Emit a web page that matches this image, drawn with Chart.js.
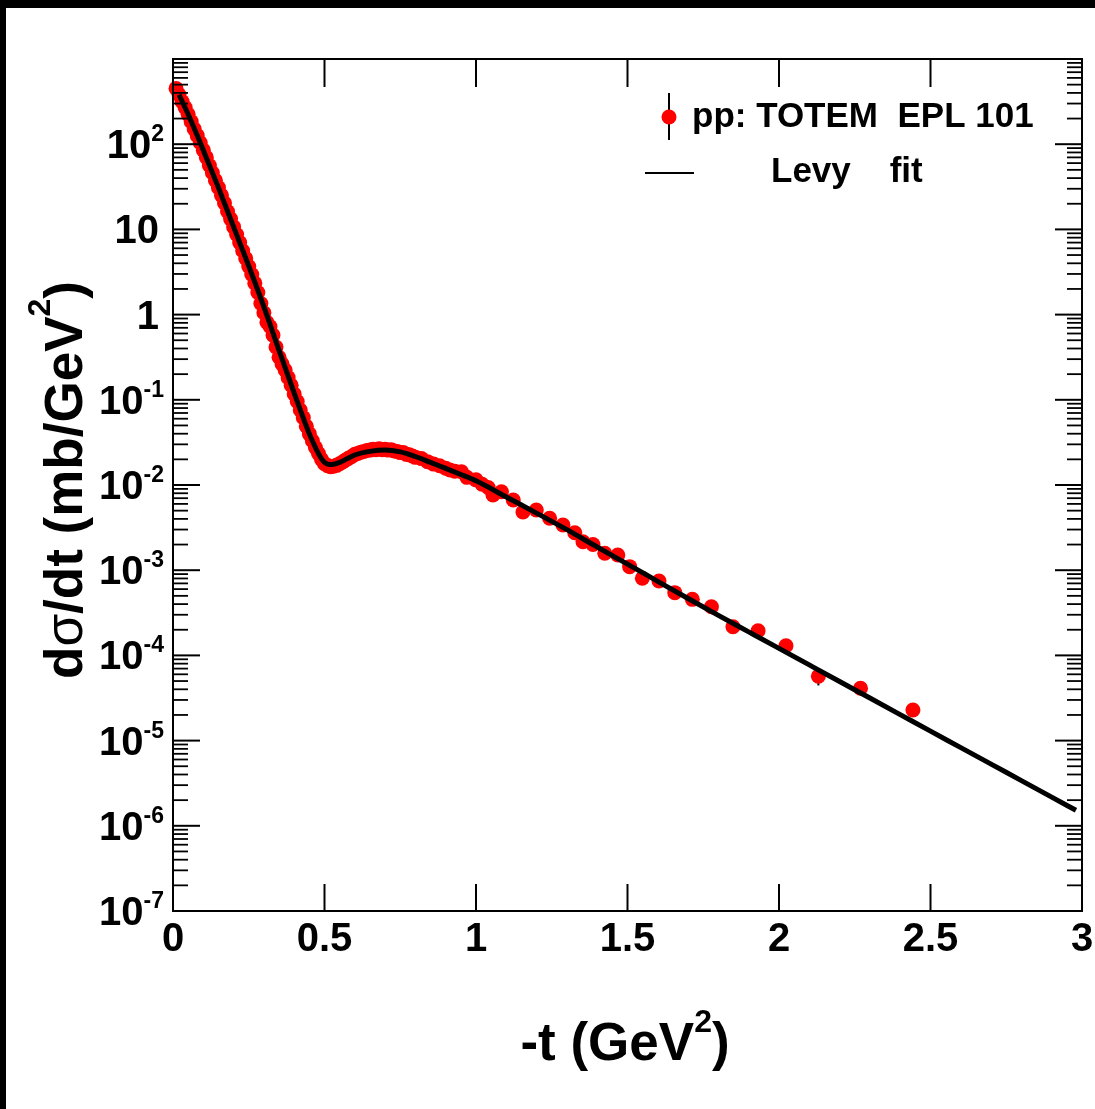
<!DOCTYPE html>
<html>
<head>
<meta charset="utf-8">
<script src="https://cdn.jsdelivr.net/npm/chart.js@4.4.1/dist/chart.umd.min.js"></script>
<style>
html,body{margin:0;padding:0;background:#000;overflow:hidden;}
canvas{display:block;}
</style>
</head>
<body>
<canvas id="c" width="1095" height="1109"></canvas>
<script>
// ---------------- data ----------------
// TOTEM pp elastic dσ/dt at 7 TeV
const dataT = [0.01,0.02,0.03,0.04,0.05,0.06,0.07,0.08,0.09,0.10,
  0.11,0.12,0.13,0.14,0.15,0.16,0.17,0.18,0.19,0.20,
  0.21,0.22,0.23,0.24,0.25,0.26,0.27,0.28,0.29,0.30,
  0.31,0.32,0.33,0.34,0.35,0.36,0.37,0.38,0.39,0.40,
  0.41,0.42,0.43,0.44,0.45,0.46,0.47,0.48,0.49,0.50,
  0.51,0.52,0.53,0.54,0.55,0.56,0.57,0.58,0.59,0.60,
  0.61,0.62,0.63,0.64,0.65,0.66,0.67,0.68,0.69,0.70,
  0.71,0.72,0.73,0.74,0.75,0.76,0.77,0.78,0.79,0.80,
  0.82,0.84,0.86,0.88,0.90,0.914,0.93,0.952,0.97,1.00,
  1.02,1.04,1.056,1.084,1.123,1.155,1.199,1.243,1.287,1.326,
  1.353,1.386,1.425,1.468,1.507,1.549,1.604,1.656,1.714,1.777,
  1.848,1.931,2.023,2.130,2.269,2.442];
const dataY = [452,380,316,269,224,184,151,126,104,85.1,
  70.0,56.2,46.2,37.6,30.9,25.1,20.4,16.2,13.3,10.7,
  8.71,7.00,5.62,4.57,3.67,2.95,2.34,1.82,1.35,1.05,
  0.813,0.724,0.575,0.417,0.316,0.263,0.224,0.182,0.148,0.117,
  0.0955,0.0759,0.0617,0.0490,0.0398,0.0331,0.0275,0.0234,0.0200,0.0178,
  0.0168,0.0164,0.0166,0.0170,0.0178,0.0186,0.0197,0.0207,0.0216,0.0229,
  0.0234,0.0243,0.0248,0.0254,0.0257,0.0263,0.0260,0.0266,0.0260,0.0263,
  0.0257,0.0260,0.0251,0.0248,0.0240,0.0240,0.0229,0.0226,0.0219,0.0211,
  0.0204,0.0188,0.0176,0.0168,0.0157,0.0150,0.0145,0.0143,0.0123,0.0115,
  0.0102,0.00933,0.00764,0.00834,0.00667,0.00482,0.00509,0.00407,0.00339,0.00275,
  0.00216,0.00200,0.00158,0.00151,0.00110,0.000804,0.000746,0.000545,0.000455,0.000373,
  0.000217,0.000195,0.000130,0.0000569,0.0000411,0.0000229];

// error bars of the large-|t| points
const errT  = [1.848, 1.931, 2.023, 2.130, 2.269, 2.442];
const errLo = [1.6e-5, 1.4e-5, 1.0e-5, 1.25e-5, 3.2e-6, 2.0e-6];
const errHi = [1.6e-5, 1.4e-5, 1.0e-5, 0.8e-5, 3.2e-6, 2.0e-6];

// Levy fit curve
const fitT = [0.02,0.05,0.10,0.15,0.20,0.25,0.30,0.35,0.40,0.45,
  0.475,0.49,0.50,0.515,0.53,0.55,0.575,0.60,0.65,0.70,
  0.75,0.80,0.85,0.90,0.95,1.00,1.10,1.20,1.30,1.40,
  1.50,1.60,1.70,1.80,1.90,2.00,2.10,2.20,2.30,2.40,
  2.50,2.60,2.70,2.80,2.90,2.98];
const fitY = [380,224,85.1,30.9,10.7,3.72,1.23,0.380,0.120,0.0398,
  0.0254,0.0204,0.0184,0.0174,0.0175,0.0184,0.0204,0.0225,0.0248,0.0257,
  0.0245,0.0216,0.0184,0.0157,0.0133,0.0112,0.00724,0.00468,0.00299,0.00187,
  0.00118,0.000740,0.000465,0.000295,0.000189,0.000121,0.0000773,0.0000494,0.0000316,0.0000202,
  0.0000129,0.00000828,0.0000053,0.00000339,0.00000217,0.00000152];

// axes
const xTicks = [0, 0.5, 1, 1.5, 2, 2.5, 3];
const xTickLabels = ['0', '0.5', '1', '1.5', '2', '2.5', '3'];
const yDecades = [-7, -6, -5, -4, -3, -2, -1, 0, 1, 2];
const yLabelBase = ['10','10','10','10','10','10','10','1','10','10'];
const yLabelSup  = ['-7','-6','-5','-4','-3','-2','-1','','','2'];
const legendData = 'pp: TOTEM  EPL 101';
const legendFit = 'Levy    fit';

// ---------------- drawing helpers ----------------
const FF = '"Liberation Sans", Arial, Helvetica, sans-serif';
const W = 1095, H = 1109;

function richWidth(ctx, parts) {
  let w = 0;
  parts.forEach(p => { ctx.font = p.font; w += ctx.measureText(p.t).width; });
  return w;
}
function drawRich(ctx, parts, x, y, align) {
  const w = richWidth(ctx, parts);
  let cx = align === 'right' ? x - w : (align === 'center' ? x - w / 2 : x);
  ctx.textAlign = 'left';
  ctx.textBaseline = 'alphabetic';
  parts.forEach(p => {
    ctx.font = p.font;
    ctx.fillText(p.t, cx, y + (p.dy || 0));
    cx += ctx.measureText(p.t).width;
  });
}
function seg(ctx, x1, y1, x2, y2) {
  ctx.beginPath(); ctx.moveTo(x1, y1); ctx.lineTo(x2, y2); ctx.stroke();
}

const rootStyle = {
  id: 'rootStyle',
  beforeDraw(chart) {
    const c = chart.ctx;
    c.save();
    c.fillStyle = '#000'; c.fillRect(0, 0, W, H);
    c.fillStyle = '#fff'; c.fillRect(6, 8, W - 6, H - 8);
    c.restore();
  },
  beforeDatasetsDraw(chart) {
    const c = chart.ctx, xs = chart.scales.x, ys = chart.scales.y;
    c.save();
    c.strokeStyle = '#000'; c.lineWidth = 2;
    errT.forEach((t, i) => {
      const j = dataT.indexOf(t);
      const v = dataY[j];
      const px = xs.getPixelForValue(t);
      seg(c, px, ys.getPixelForValue(v - errLo[i]), px, ys.getPixelForValue(v + errHi[i]));
    });
    c.restore();
  },
  afterDraw(chart) {
    const c = chart.ctx, xs = chart.scales.x, ys = chart.scales.y;
    const a = chart.chartArea;
    c.save();
    c.strokeStyle = '#000';
    c.fillStyle = '#000';
    c.lineWidth = 2;
    // frame
    c.strokeRect(a.left, a.top, a.right - a.left, a.bottom - a.top);
    // x ticks (bottom and top)
    xTicks.forEach(v => {
      const px = xs.getPixelForValue(v);
      seg(c, px, a.bottom, px, a.bottom - 27);
      seg(c, px, a.top, px, a.top + 28);
    });
    // y ticks (left and right), log
    yDecades.concat([-8]).forEach(n => {
      for (let k = 1; k <= 9; k++) {
        const v = k * Math.pow(10, n);
        if (v < ys.min * 0.999 || v > ys.max * 1.001) continue;
        const py = ys.getPixelForValue(v);
        const len = k === 1 ? 27 : 15;
        c.lineWidth = k === 1 ? 2 : 1.8;
        seg(c, a.left, py, a.left + len, py);
        seg(c, a.right, py, a.right - len, py);
      }
    });
    // x tick labels
    c.textAlign = 'center'; c.textBaseline = 'alphabetic';
    c.font = 'bold 40px ' + FF;
    xTicks.forEach((v, i) => {
      c.fillText(xTickLabels[i], xs.getPixelForValue(v), a.bottom + 40);
    });
    // y tick labels
    yDecades.forEach((n, i) => {
      const py = ys.getPixelForValue(Math.pow(10, n));
      const parts = [{ t: yLabelBase[i], font: 'bold 40px ' + FF }];
      if (yLabelSup[i]) parts.push({ t: yLabelSup[i], font: 'bold 23px ' + FF, dy: -17 });
      drawRich(c, parts, yLabelSup[i] ? a.left - 9 : a.left - 14, py + 14, 'right');
    });
    // x axis title
    drawRich(c, [
      { t: '-t (GeV', font: 'bold 53px ' + FF },
      { t: '2', font: 'bold 32px ' + FF, dy: -28 },
      { t: ')', font: 'bold 53px ' + FF }
    ], 625, 1060, 'center');
    // y axis title
    c.save();
    c.translate(82, 480);
    c.rotate(-Math.PI / 2);
    drawRich(c, [
      { t: 'd', font: 'bold 53px ' + FF },
      { t: 'σ', font: '53px ' + FF },
      { t: '/dt (mb/GeV', font: 'bold 53px ' + FF },
      { t: '2', font: 'bold 32px ' + FF, dy: -32 },
      { t: ')', font: 'bold 53px ' + FF }
    ], 0, 0, 'center');
    c.restore();
    // legend
    c.lineWidth = 2;
    seg(c, 669, 93, 669, 140);
    c.fillStyle = '#ff0000';
    c.beginPath(); c.arc(669, 117, 7.5, 0, Math.PI * 2); c.fill();
    c.fillStyle = '#000';
    c.textAlign = 'left';
    c.font = 'bold 35px ' + FF;
    c.fillText(legendData, 692, 127);
    seg(c, 645, 173, 694, 173);
    c.fillText(legendFit, 771, 182);
    c.restore();
  }
};

new Chart(document.getElementById('c'), {
  type: 'scatter',
  data: {
    datasets: [
      {
        label: 'Levy fit',
        data: fitT.map((t, i) => ({ x: t, y: fitY[i] })),
        showLine: true,
        borderColor: '#000',
        borderWidth: 5,
        pointRadius: 0,
        cubicInterpolationMode: 'monotone',
        order: 0
      },
      {
        label: legendData,
        data: dataT.map((t, i) => ({ x: t, y: dataY[i] })),
        showLine: false,
        backgroundColor: '#ff0000',
        borderWidth: 0,
        pointRadius: 7.5,
        pointHoverRadius: 7.5,
        clip: false,
        order: 1
      }
    ]
  },
  options: {
    responsive: false,
    animation: false,
    devicePixelRatio: 1,
    layout: { padding: { left: 173, top: 59, right: 13, bottom: 198 } },
    plugins: { legend: { display: false }, tooltip: { enabled: false } },
    events: [],
    scales: {
      x: { type: 'linear', min: 0, max: 3, display: false },
      y: { type: 'logarithmic', min: 1e-7, max: 1e3, display: false }
    }
  },
  plugins: [rootStyle]
});
</script>
</body>
</html>
